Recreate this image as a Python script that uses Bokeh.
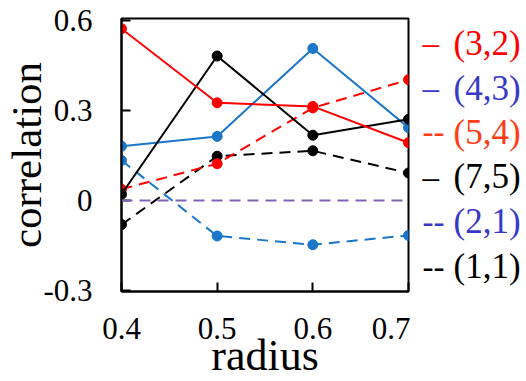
from bokeh.plotting import figure
from bokeh.layouts import row
from bokeh.models import Range1d, FixedTicker, Span
from bokeh.core.properties import value
from bokeh.embed import file_html
from bokeh.resources import INLINE

radius = [0.4, 0.5, 0.6, 0.7]
s32 = [0.573, 0.326, 0.314, 0.193]   # (3,2) red solid
s43 = [0.181, 0.214, 0.507, 0.243]   # (4,3) blue solid
s54 = [0.038, 0.123, 0.309, 0.403]   # (5,4) red dashed
s75 = [0.021, 0.482, 0.218, 0.271]   # (7,5) black solid
s21 = [0.134, -0.118, -0.147, -0.116]  # (2,1) blue dashed
s11 = [-0.080, 0.148, 0.166, 0.092]  # (1,1) black dashed
baseline = 0.0
y_ticks = [-0.3, 0, 0.3, 0.6]
y_tick_labels = ["-0.3", "0", "0.3", "0.6"]
x_ticks = [0.4, 0.5, 0.6, 0.7]
x_tick_labels = ["0.4", "0.5", "0.6", "0.7"]
legend_labels = ["(3,2)", "(4,3)", "(5,4)", "(7,5)", "(2,1)", "(1,1)"]
legend_marks = ["\u2013", "\u2013", "--", "\u2013", "--", "--"]
legend_colors = ["#ff0000", "#3838c8", "#ff3c14", "#000000", "#3838c8", "#000000"]

RED = "#ff0000"
BLUE = "#1a76c8"
BLACK = "#000000"
PURPLE = "#8064b4"
FONT = "'Liberation Serif'"
DASH = "11 7"

Y0, Y1 = -0.303, 0.607
TOP, BOTTOM = 18, 89

p = figure(frame_width=287, frame_height=273,
           min_border_left=118, min_border_right=2, min_border_top=TOP, min_border_bottom=BOTTOM,
           x_range=Range1d(0.4, 0.7), y_range=Range1d(Y0, Y1),
           output_backend="svg", toolbar_location=None)
p.grid.visible = False
p.outline_line_color = "black"
p.outline_line_width = 2
p.background_fill_color = "white"
p.border_fill_color = "white"

for ax in (p.xaxis[0], p.yaxis[0]):
    ax.axis_line_width = 2
    ax.axis_line_color = "black"
    ax.major_tick_in = 9
    ax.major_tick_out = 0
    ax.major_tick_line_width = 2
    ax.minor_tick_line_color = None
    ax.major_label_text_font = FONT
    ax.major_label_text_font_style = "normal"
    ax.major_label_text_font_size = "31px"
    ax.major_label_text_color = "black"
    ax.axis_label_text_font = FONT
    ax.axis_label_text_font_style = "normal"
    ax.axis_label_text_color = "black"

p.xaxis[0].ticker = FixedTicker(ticks=x_ticks)
p.xaxis[0].major_label_overrides = {t: l for t, l in zip(x_ticks, x_tick_labels)}
p.xaxis[0].major_label_standoff = 26
p.xaxis[0].axis_label = "radius"
p.xaxis[0].axis_label_text_font_size = "44px"
p.xaxis[0].axis_label_standoff = -11

p.yaxis[0].ticker = FixedTicker(ticks=y_ticks)
p.yaxis[0].major_label_overrides = {t: l for t, l in zip(y_ticks, y_tick_labels)}
p.yaxis[0].major_label_standoff = 29
p.yaxis[0].axis_label = "correlation"
p.yaxis[0].axis_label_text_font_size = "43px"
p.yaxis[0].axis_label_standoff = -10

p.add_layout(Span(location=baseline, dimension="width", line_color=PURPLE,
                  line_width=2, line_dash=DASH))

series = [
    (s21, BLUE, "dashed"),
    (s11, BLACK, "dashed"),
    (s54, RED, "dashed"),
    (s43, BLUE, "solid"),
    (s75, BLACK, "solid"),
    (s32, RED, "solid"),
]
for ys, col, dash in series:
    p.line(radius, ys, line_color=col, line_width=2,
           line_dash=(DASH if dash == "dashed" else "solid"))
    p.scatter(radius, ys, size=10, fill_color=col, line_color=col)

# legend panel: a second figure sharing the y scale
LW = 116
q = figure(frame_width=LW, frame_height=273,
           min_border_left=0, min_border_right=0, min_border_top=TOP, min_border_bottom=BOTTOM,
           x_range=Range1d(0, LW), y_range=Range1d(Y0, Y1),
           output_backend="svg", toolbar_location=None)
q.axis.visible = False
q.grid.visible = False
q.outline_line_color = None
q.background_fill_color = "white"
q.border_fill_color = "white"

legend_y = [0.525, 0.375, 0.228, 0.080, -0.070, -0.220]
q.text(x=[12] * len(legend_marks), y=legend_y, text=legend_marks, text_color=legend_colors,
       text_font=value(FONT), text_font_size="33px", text_baseline="middle")
q.text(x=[43] * len(legend_labels), y=legend_y, text=legend_labels, text_color=legend_colors,
       text_font=value(FONT), text_font_size="35px", text_baseline="middle")

layout = row(p, q, spacing=0)
open("out.html", "w").write(file_html(layout, INLINE))
